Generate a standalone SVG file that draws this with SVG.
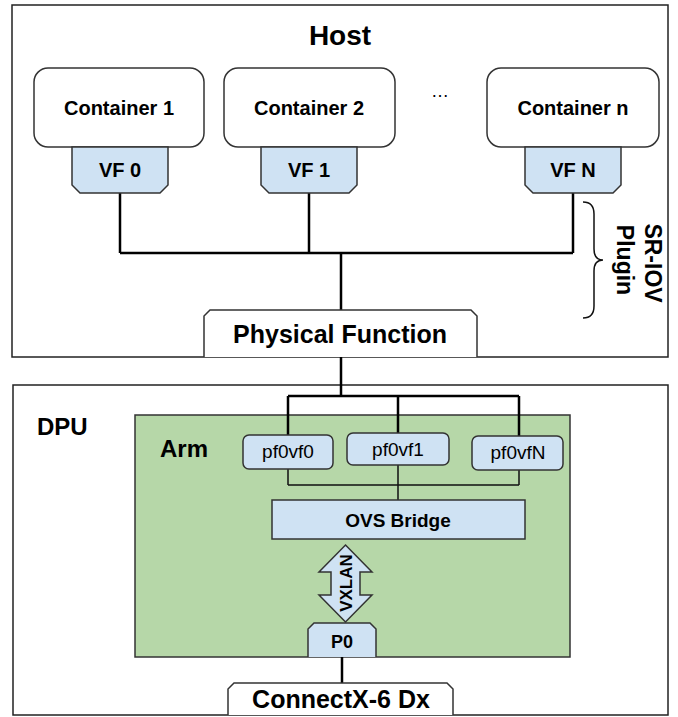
<svg xmlns="http://www.w3.org/2000/svg" width="678" height="717" viewBox="0 0 678 717">
<style>
text{font-family:"Liberation Sans",Arial,sans-serif;fill:#000}
.b{font-weight:bold}
.frame{fill:#fff;stroke:#222;stroke-width:1.5}
.box{fill:#fff;stroke:#333;stroke-width:1.5}
.blue{fill:#cfe2f3;stroke:#333;stroke-width:1.5}
.ln{fill:none;stroke:#000;stroke-width:2.5}
.thin{fill:none;stroke:#111;stroke-width:1.5}
</style>
<rect width="678" height="717" fill="#fff"/>
<g id="host">
<rect class="frame" x="12" y="5" width="656" height="352"/>
<text class="b" x="340" y="45" font-size="28" text-anchor="middle">Host</text>
</g>
<g id="dpu">
<rect class="frame" x="13" y="385" width="655" height="330"/>
<text class="b" x="37" y="435" font-size="24">DPU</text>
</g>
<g id="arm">
<rect x="135" y="415" width="435" height="242" fill="#b6d7a8" stroke="#333" stroke-width="1.5"/>
<text class="b" x="160" y="457" font-size="24">Arm</text>
</g>
<g id="connectors">
<path class="ln" d="M120,193V253M309,193V253M573,193V253M120,253H573"/>
<path class="ln" stroke-width="3" d="M341,253V310M341,357V396"/>
<path class="ln" d="M288,396H519M288,396V435M398,396V433M519,396V436"/>
<path class="thin" d="M288,469V485M398,465V485M519,470V485M288,485H519M398,485V500"/>
<path class="ln" stroke-width="2" d="M342,657V683"/>
<path class="thin" stroke-width="2" d="M583,202Q594,202 594,214L594,249Q594,260 603,260Q594,260 594,271L594,306Q594,318 583,318"/>
</g>
<g id="container1">
<rect class="box" x="34" y="68" width="170" height="79" rx="14"/>
<text class="b" x="119" y="115" font-size="20" text-anchor="middle">Container 1</text>
</g>
<g id="container2">
<rect class="box" x="224" y="68" width="171" height="79" rx="14"/>
<text class="b" x="309" y="115" font-size="20" text-anchor="middle">Container 2</text>
</g>
<text x="440" y="97" font-size="18" text-anchor="middle" fill="#333">…</text>
<g id="containern">
<rect class="box" x="487" y="68" width="172" height="79" rx="14"/>
<text class="b" x="573" y="115" font-size="20" text-anchor="middle">Container n</text>
</g>
<g id="vf0">
<path class="blue" d="M72,147H168V185L160,193H80L72,185Z"/>
<text class="b" x="120" y="177" font-size="20" text-anchor="middle">VF 0</text>
</g>
<g id="vf1">
<path class="blue" d="M261,147H357V185L349,193H269L261,185Z"/>
<text class="b" x="309" y="177" font-size="20" text-anchor="middle">VF 1</text>
</g>
<g id="vfn">
<path class="blue" d="M525,147H621V185L613,193H533L525,185Z"/>
<text class="b" x="573" y="177" font-size="20" text-anchor="middle">VF N</text>
</g>
<g id="physical-function">
<path class="box" d="M204,357V316L210,310H471L477,316V357"/>
<text class="b" x="340" y="343" font-size="25" text-anchor="middle">Physical Function</text>
</g>
<g id="sriov-plugin">
<text class="b" x="645" y="263" font-size="23" text-anchor="middle" transform="rotate(90 645 263)">SR-IOV</text>
<text class="b" x="617" y="260" font-size="23" text-anchor="middle" transform="rotate(90 617 260)">Plugin</text>
</g>
<g id="pf0vf0">
<rect class="blue" x="243" y="435" width="90" height="34" rx="6"/>
<text x="288" y="458" font-size="19" text-anchor="middle">pf0vf0</text>
</g>
<g id="pf0vf1">
<rect class="blue" x="347" y="433" width="102" height="32" rx="6"/>
<text x="398" y="456" font-size="19" text-anchor="middle">pf0vf1</text>
</g>
<g id="pf0vfN">
<rect class="blue" x="472" y="436" width="91" height="34" rx="6"/>
<text x="518" y="459" font-size="19" text-anchor="middle">pf0vfN</text>
</g>
<g id="ovs-bridge">
<rect class="blue" x="272" y="500" width="253" height="39"/>
<text class="b" x="398" y="527" font-size="19" text-anchor="middle">OVS Bridge</text>
</g>
<g id="vxlan">
<path class="blue" d="M345.5,545L372,572H360V595H372L345.5,622L319,595H331V572H319Z"/>
<text class="b" x="346" y="583" font-size="17" text-anchor="middle" dominant-baseline="central" transform="rotate(-90 346 583)">VXLAN</text>
</g>
<g id="p0">
<path class="blue" d="M308,657V629L314,623H370L376,629V657"/>
<text class="b" x="342" y="648" font-size="18" text-anchor="middle">P0</text>
</g>
<g id="connectx">
<path class="box" d="M228,715V689L234,683H447L453,689V715"/>
<text class="b" x="341" y="708" font-size="25" text-anchor="middle">ConnectX-6 Dx</text>
</g>
</svg>
